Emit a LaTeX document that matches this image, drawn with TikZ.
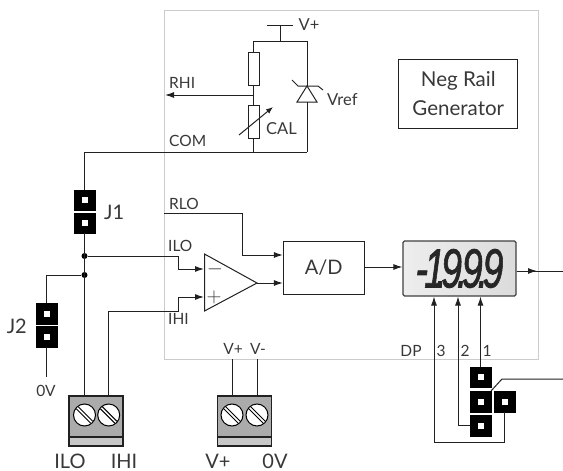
\documentclass[tikz,border=0pt]{standalone}
\usepackage{fontspec}
\setmainfont{Lato}
\newfontfamily\lcdfont[ItalicFeatures={FakeBold=1.5}]{Liberation Sans}
\usetikzlibrary{positioning,calc,arrows,arrows.meta}
\definecolor{wirecol}{gray}{0.13}
\definecolor{textcol}{gray}{0.22}
\tikzset{
	>={Latex[length=9pt,width=6pt]},
	wire/.style={draw=wirecol, line width=1pt},
	pin/.style={draw=black, fill=black, minimum size=20.5pt, inner sep=0pt, path picture={\fill[white] ($(path picture bounding box.center)+(-3pt,-3pt)$) rectangle ++(6pt,6pt);}},
	lblsmall/.style={text=textcol, inner sep=0pt, font=\fontsize{15.5}{17}\selectfont},
	lblmid/.style={text=textcol, inner sep=0pt, font=\fontsize{16.5}{18}\selectfont},
	lblbig/.style={text=textcol, inner sep=0pt, font=\fontsize{20}{22}\selectfont},
	dotnode/.style={circle, fill=black, inner sep=0pt, minimum size=6pt},
	screw/.style={circle, draw=black, fill=white, line width=1pt, minimum size=22pt, inner sep=0pt},
	termbody/.style={draw=wirecol, fill=black!33, line width=1.1pt, minimum width=54pt, minimum height=50pt, inner sep=0pt},
	termstrip/.style={draw=wirecol, fill=black!22, line width=1.1pt, minimum width=54pt, minimum height=9pt, inner sep=0pt},
}
\newcommand{\slotlines}[1]{
	\draw[black, line width=1pt] ($(#1)+(-8.2,-6.2)$) -- ($(#1)+(6.2,8.2)$);
	\draw[black, line width=1pt] ($(#1)+(-6.2,-8.2)$) -- ($(#1)+(8.2,6.2)$);
}
\begin{document}
\begin{tikzpicture}[x=1pt, y=-1pt]
	\useasboundingbox (0,0) rectangle (563,471);

	\node[draw=black!20, line width=1pt, minimum width=374pt, minimum height=349pt, inner sep=0pt] (board) at (351,184.5) {};
	\node[draw=wirecol, line width=1pt, minimum width=119pt, minimum height=69pt, inner sep=0pt, align=center, text=textcol, font=\fontsize{20.5}{29}\selectfont] (negrail) at (458.3,93.5) {Neg Rail\\Generator};

	\coordinate (vbarl) at (267,25);
	\coordinate (vbarr) at (293,25);
	\coordinate (vbarm) at (280,25);
	\coordinate (vtop) at (280,41);
	\coordinate (railr) at (307,41);
	\coordinate (raill) at (253.5,41);
	\coordinate (rhiend) at (165,95);
	\coordinate (rjoin) at (253.5,95);
	\coordinate (comjoin) at (253.5,152);
	\coordinate (comzen) at (307,152);
	\coordinate (comcorner) at (84.5,152);

	\node[wire, fill=white, minimum width=11pt, minimum height=33pt, inner sep=0pt] (rup) at (253.5,68.5) {};
	\node[wire, fill=white, minimum width=11pt, minimum height=33pt, inner sep=0pt] (rcal) at (253.5,121.5) {};
	\draw[wire] (vbarl) -- (vbarr);
	\draw[wire] (vbarm) -- (vtop);
	\draw[wire] (raill) -- (railr);
	\draw[wire] (raill) -- (rup);
	\draw[wire] (rup) -- (rcal);
	\draw[wire] (rcal) -- (comjoin);
	\draw[wire, ->] (rjoin) -- (rhiend);
	\draw[wire] (comcorner) -- (comzen);

	\coordinate (zena) at (307,86);
	\coordinate (zenl) at (297,102);
	\coordinate (zenr) at (317,102);
	\coordinate (zenb) at (307,102);
	\draw[wire] (railr) -- (zena);
	\draw[wire] (zenb) -- (comzen);
	\draw[wire] (zena) -- (zenl) -- (zenr) -- cycle;
	\draw[wire] (292,80) -- (298,86) -- (318,86) -- (323,90);
	\draw[wire, -{Latex[length=7pt,width=5.5pt]}] (239,135) -- (273,107);

	\node[lblmid] (vplus) at (309,25) {V+};
	\node[lblsmall, anchor=west] (rhi) at (169,83) {RHI};
	\node[lblsmall, anchor=west] (com) at (169,141) {COM};
	\node[lblmid, anchor=west] (cal) at (266,129) {CAL};
	\node[lblmid, anchor=west] (vref) at (327,100) {Vref};

	\node[pin] (jonea) at (84.5,200) {};
	\node[pin] (joneb) at (84.5,223) {};
	\node[pin] (jtwoa) at (46.5,313.5) {};
	\node[pin] (jtwob) at (46.5,336.5) {};
	\node[lblbig, anchor=west] (jone) at (104,212) {J1};
	\node[lblbig, anchor=east] (jtwo) at (27,326) {J2};
	\coordinate (jtwoend) at (46.5,377);
	\node[lblsmall] (zerov) at (46,391) {0V};

	\node[dotnode] (dila) at (84.5,256) {};
	\node[dotnode] (dilb) at (84.5,275) {};

	\coordinate (opa) at (204.5,254);
	\coordinate (opb) at (204.5,311);
	\coordinate (opc) at (257,283);
	\draw[wire] (opa) -- (opb) -- (opc) -- cycle;
	\node[text=textcol, font=\fontsize{20}{22}\selectfont, inner sep=0pt] (opminus) at (215,269) {$-$};
	\node[text=textcol, font=\fontsize{20}{22}\selectfont, inner sep=0pt] (opplus) at (214,297) {$+$};
	\coordinate (opinm) at (204,269);
	\coordinate (opinp) at (204,297);

	\node[wire, minimum width=80.7pt, minimum height=53pt, inner sep=0pt, text=textcol, font=\fontsize{20}{22}\selectfont] (adc) at (323.7,267.5) {A/D};
	\node[draw=black!75, line width=1.2pt, left color=black!7, right color=black!14, rounded corners=1.5pt, minimum width=113pt, minimum height=55pt, inner sep=0pt] (lcd) at (459.5,268.5) {};
	\node[inner sep=0pt, text=black!85, xscale=0.68, font=\lcdfont\fontsize{55}{60}\selectfont\itshape] (lcdtext) at (459.5,268.5) {-\kern-.1em 1\kern-.24em.\kern-.14em9\kern-.14em.\kern-.14em9\kern-.14em.\kern-.14em9};

	\coordinate (rlostart) at (164,213);
	\coordinate (outend) at (563,271);
	\draw[wire] (comcorner) -- (jonea);
	\draw[wire] (joneb) -- (84.5,396);
	\draw[wire] (dilb) -| (jtwoa);
	\draw[wire] (jtwob) -- (jtwoend);
	\draw[wire, ->] (dila) -- (178,256) |- (opinm);
	\draw[wire, ->] (108.5,396) |- (178,311) |- (opinp);
	\draw[wire, ->] (rlostart) -| (242,255) -- (adc.west |- 0,255);
	\draw[wire, ->] (opc) -- (adc.west |- opc);
	\draw[wire, ->] (adc.east |- 0,267) -- (lcd.west |- 0,267);
	\draw[wire] (lcd.east |- outend) -- (outend);
	\draw[wire, ->] (lcd.east |- outend) -- (537,271);

	\node[lblsmall, anchor=west] (rlo) at (169,204) {RLO};
	\node[lblsmall, anchor=west] (ilo) at (168,246) {ILO};
	\node[lblsmall, anchor=west] (ihi) at (168,319) {IHI};
	\node[lblsmall] (vpin) at (233,349) {V+};
	\node[lblsmall] (vmin) at (258,349) {V-};
	\node[lblsmall] (dp) at (411,351) {DP};
	\node[lblsmall] (dpthree) at (441,351) {3};
	\node[lblsmall] (dptwo) at (465,351) {2};
	\node[lblsmall] (dpone) at (487,351) {1};

	\node[termbody] (terma) at (96,421) {};
	\node[termstrip] (stripa) at (96,441.5) {};
	\node[screw] (sa) at (84.5,415) {};
	\node[screw] (sb) at (108.7,415) {};
	\slotlines{sa}
	\slotlines{sb}
	\node[termbody] (termb) at (244.5,421) {};
	\node[termstrip] (stripb) at (244.5,441.5) {};
	\node[screw] (sc) at (232,415) {};
	\node[screw] (sd) at (257,415) {};
	\slotlines{sc}
	\slotlines{sd}
	\draw[wire] (232,359) -- (232,396);
	\draw[wire] (257,359) -- (257,396);

	\node[lblbig] (tilo) at (70,461) {ILO};
	\node[lblbig] (tihi) at (124,461) {IHI};
	\node[lblbig] (tvp) at (218,461) {V+};
	\node[lblbig] (tov) at (275,461) {0V};

	\node[pin] (dpa) at (480.5,377) {};
	\node[pin] (dpb) at (480.5,401.5) {};
	\node[pin] (dpc) at (480.5,425.5) {};
	\node[pin] (dpd) at (504.5,401.5) {};
	\coordinate (dpjoin) at (502,379);
	\coordinate (dpend) at (563,379);
	\draw[wire, ->] (dpa) -- (dpa |- lcd.south);
	\draw[wire, ->] (dpc) -| (458,296.5);
	\draw[wire, ->] (dpd) |- (434,442) -- (434,296.5);
	\draw[wire] (dpb.north east) -- (dpjoin) -- (dpend);
\end{tikzpicture}
\end{document}
